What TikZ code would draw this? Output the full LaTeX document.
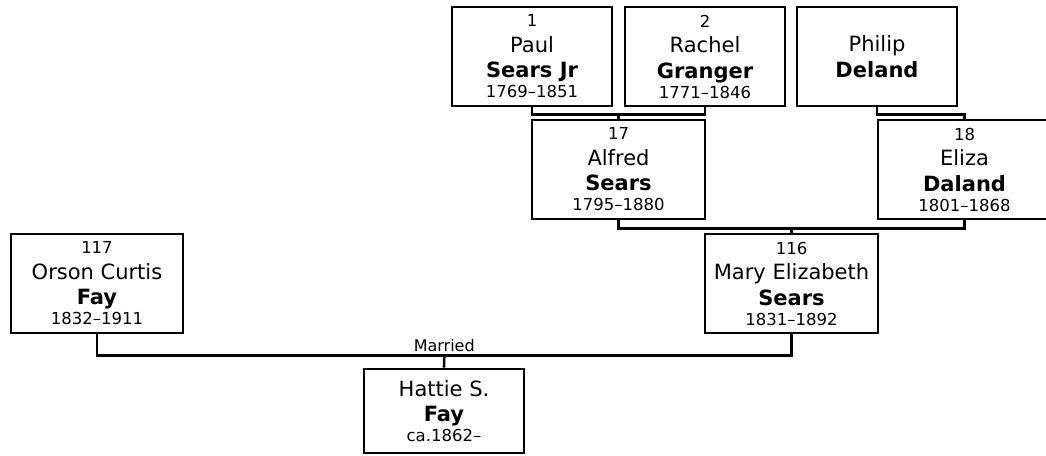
\documentclass[tikz,border=0pt]{standalone}
\usepackage{fontspec}
\setmainfont{DejaVu Sans}
\usepackage{tikz}
\usetikzlibrary{positioning,calc}
\tikzset{
  person/.style={draw=black,line width=2.6pt,fill=white,rectangle,align=center,
    inner sep=0pt,minimum width=173pt,minimum height=99pt,
    font=\fontsize{21}{25.5}\selectfont},
  person-narrow/.style={person,minimum width=160pt},
  link/.style={draw=black,line width=2.6pt},
  label-married/.style={font=\fontsize{16}{19}\selectfont,inner sep=0pt,above=3pt},
}
\newcommand{\pnum}[1]{{\fontsize{16.5}{19}\selectfont #1}}
\newcommand{\pdates}[1]{{\fontsize{16.5}{19}\selectfont #1}}

\begin{document}
\begin{tikzpicture}[x=1pt,y=-1pt]
  \clip (0,0) rectangle (1046,455);
  % grandparents
  \node[person-narrow] (paul) at (532,56.5)
    {\pnum{1}\\Paul\\\textbf{Sears Jr}\\[-5.5pt]\pdates{1769--1851}};
  \node[person-narrow] (rachel) at (705,56.5)
    {\pnum{2}\\Rachel\\\textbf{Granger}\\[-5.5pt]\pdates{1771--1846}};
  \node[person-narrow] (philip) at (877,56.5)
    {Philip\\\textbf{Deland}};
  % parents of Mary
  \node[person] (alfred) at (618.5,169.5)
    {\pnum{17}\\Alfred\\\textbf{Sears}\\[-5.5pt]\pdates{1795--1880}};
  \node[person] (eliza) at (964.5,169.5)
    {\pnum{18}\\Eliza\\\textbf{Daland}\\[-5.5pt]\pdates{1801--1868}};
  % couple
  \node[person,minimum width=172pt] (orson) at (97,283.5)
    {\pnum{117}\\Orson Curtis\\\textbf{Fay}\\[-5.5pt]\pdates{1832--1911}};
  \node[person] (mary) at (791.5,283.5)
    {\pnum{116}\\Mary Elizabeth\\\textbf{Sears}\\[-5.5pt]\pdates{1831--1892}};
  % child
  \node[person-narrow,minimum height=84pt] (hattie) at (444,411)
    {Hattie S.\\\textbf{Fay}\\[-5.5pt]\pdates{ca.1862--}};

  \draw[link] (paul.south) -- ++(0,7) -| (rachel.south);
  \coordinate (pr) at ($(paul.south)!0.5!(rachel.south)+(0,7)$);
  \draw[link] (pr) -- (alfred.north);
  \draw[link] (philip.south) -- ++(0,7) -| (eliza.north);
  \draw[link] (alfred.south) -- ++(0,8) -| (eliza.south);
  \coordinate (ae) at ($(alfred.south)!0.5!(eliza.south)+(0,8)$);
  \draw[link] (ae) -- (mary.north);
  \draw[link] (orson.south) -- ++(0,21) -| (mary.south);
  \coordinate (om) at ($(orson.south)!0.5!(mary.south)+(0,21)$);
  \node[label-married] (married) at (om) {Married};
  \draw[link] (om) -- (hattie.north);
\end{tikzpicture}
\end{document}
